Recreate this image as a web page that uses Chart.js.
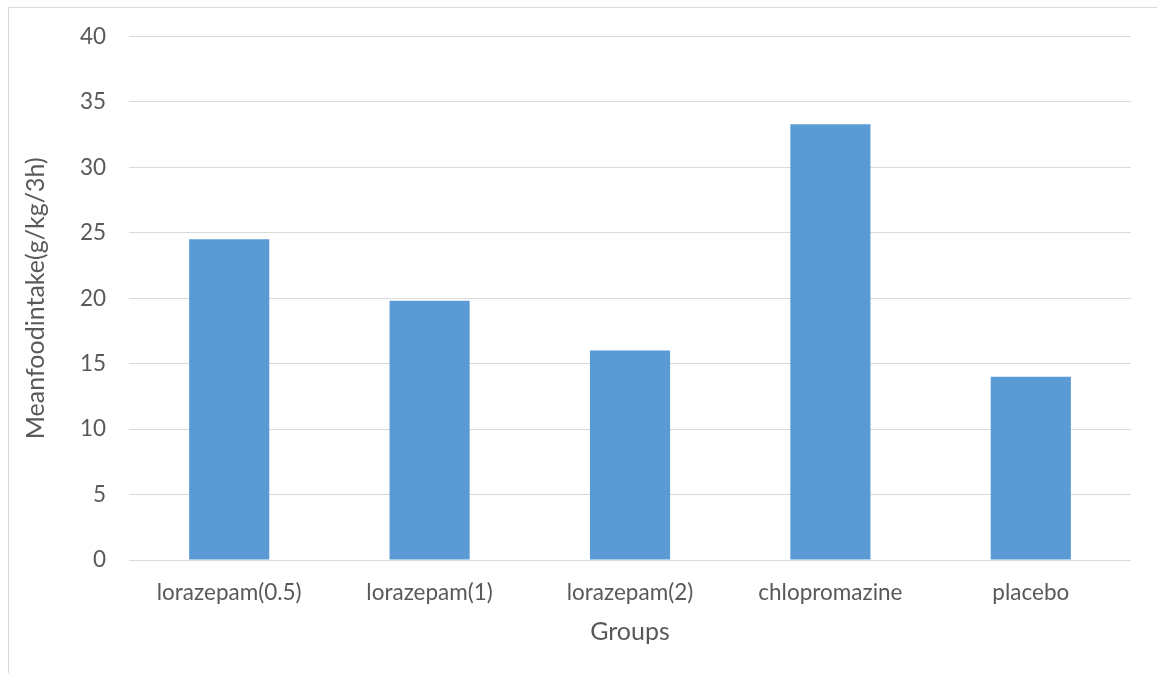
<!DOCTYPE html>
<html>
<head>
<meta charset="utf-8">
<script src="https://cdn.jsdelivr.net/npm/chart.js@4"></script>
<style>
  html, body { margin: 0; padding: 0; background: #ffffff; overflow: hidden; }
  #frame { position: absolute; left: 8px; top: 7px; width: 1200px; height: 720px;
           border-left: 1px solid #d9d9d9; border-top: 1px solid #d9d9d9; }
  #wrap { position: absolute; left: 0; top: 0; width: 1157px; height: 673px; }
</style>
</head>
<body>
<div id="frame"></div>
<div id="wrap"><canvas id="c" width="1157" height="673"></canvas></div>
<script>
// Groups and mean food intake (g/kg over 3 h)
const groups = ['lorazepam(0.5)', 'lorazepam(1)', 'lorazepam(2)', 'chlopromazine', 'placebo'];
const meanIntake = [24.5, 19.8, 16.0, 33.3, 14.0];
const yTicks = [0, 5, 10, 15, 20, 25, 30, 35, 40];

const textColor = '#595959';
const gridColor = '#d9d9d9';
const fontFamily = 'Lato, "Open Sans", sans-serif';

new Chart(document.getElementById('c'), {
  type: 'bar',
  data: {
    labels: groups,
    datasets: [{
      data: meanIntake,
      backgroundColor: '#5b9bd5',
      borderWidth: 0,
      categoryPercentage: 1.0,
      barPercentage: 0.4
    }]
  },
  options: {
    responsive: false,
    animation: false,
    devicePixelRatio: 1,
    layout: { padding: { top: 36, right: 26, left: 0, bottom: 0 } },
    plugins: { legend: { display: false }, tooltip: { enabled: false } },
    scales: {
      x: {
        grid: { display: false, drawTicks: false },
        border: { display: false },
        ticks: { color: textColor, font: { family: fontFamily, size: 22.5 }, padding: 19, maxRotation: 0 },
        title: { display: true, text: 'Groups', color: textColor,
                 font: { family: fontFamily, size: 25 }, padding: { top: 0, bottom: 26 } },
        afterFit: s => { s.height = 113; }
      },
      y: {
        min: 0, max: 40,
        afterBuildTicks: s => { s.ticks = yTicks.map(v => ({ value: v })); },
        grid: { color: gridColor, lineWidth: 1, drawTicks: false },
        border: { display: false },
        ticks: { color: textColor, font: { family: fontFamily, size: 22.5 }, padding: 23 },
        title: { display: true, text: 'Meanfoodintake(g/kg/3h)', color: textColor,
                 font: { family: fontFamily, size: 25 }, padding: { top: 21, bottom: 0 } },
        afterFit: s => { s.width = 129; }
      }
    }
  }
});
</script>
</body>
</html>
